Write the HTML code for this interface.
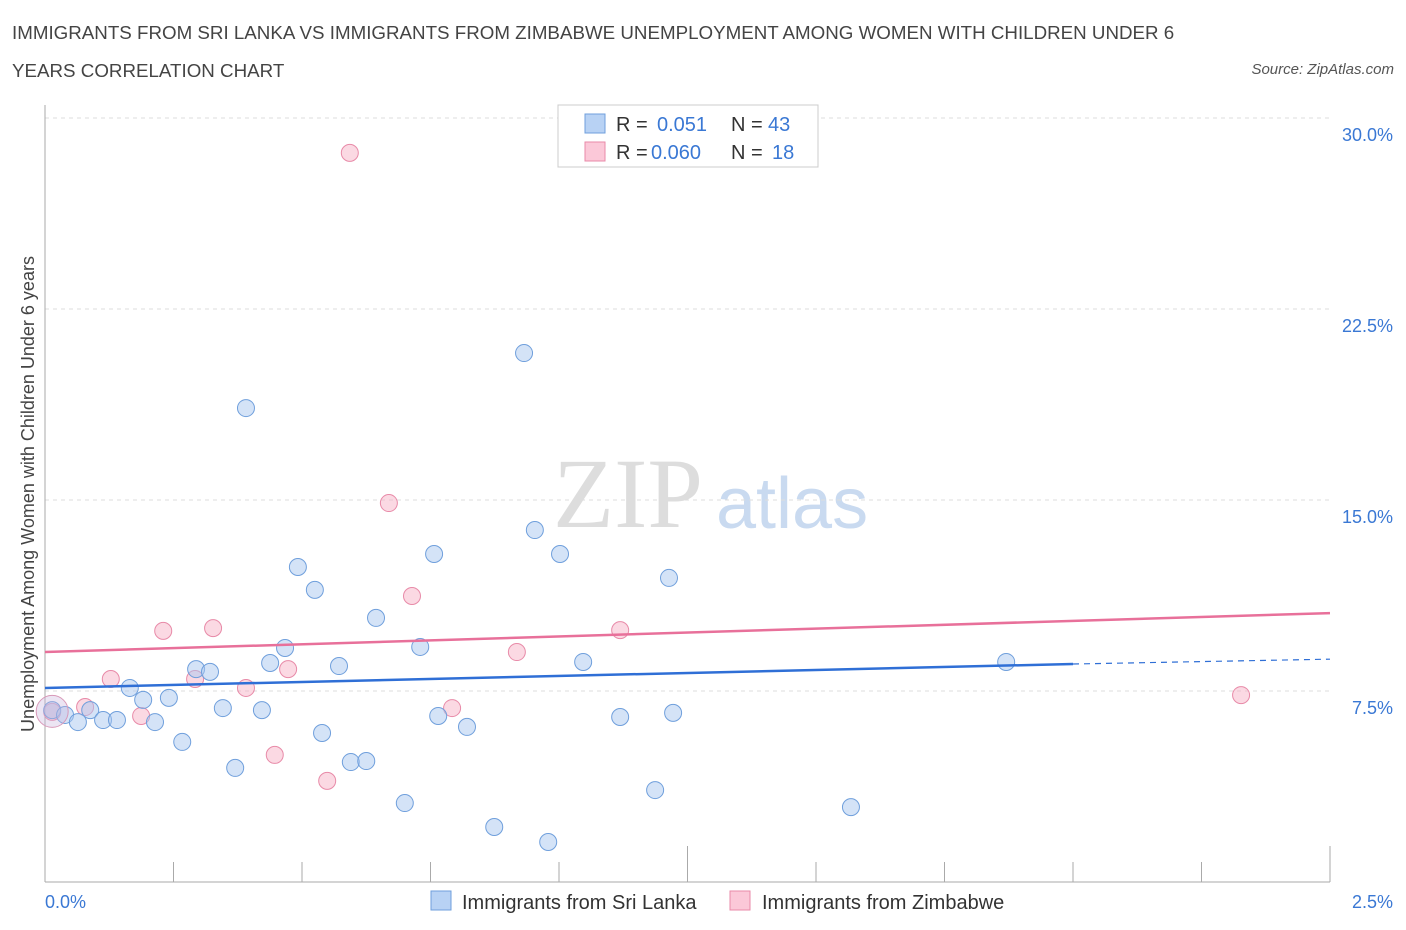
<!DOCTYPE html>
<html><head><meta charset="utf-8">
<style>
body{margin:0;background:#fff;font-family:"Liberation Sans",sans-serif;}
#wrap{position:relative;width:1406px;height:930px;overflow:hidden;}
.t{position:absolute;white-space:nowrap;}
</style></head><body>
<div id="wrap">
<div class="t" style="left:12px;top:14px;font-size:18.75px;color:#444;line-height:38px;">IMMIGRANTS FROM SRI LANKA VS IMMIGRANTS FROM ZIMBABWE UNEMPLOYMENT AMONG WOMEN WITH CHILDREN UNDER 6<br>YEARS CORRELATION CHART</div>
<div class="t" style="right:12px;top:61px;font-size:15px;font-style:italic;color:#555;">Source: ZipAtlas.com</div>
<svg id="svg" width="1406" height="930" style="position:absolute;left:0;top:0"></svg>
</div>
<script>
const blueX=[0.014,0.039,0.064,0.088,0.113,0.140,0.165,0.191,0.214,0.241,0.267,0.294,0.321,0.346,0.370,0.391,0.422,0.438,0.467,0.492,0.525,0.539,0.572,0.595,0.625,0.644,0.700,0.730,0.757,0.765,0.821,0.874,0.932,0.953,0.979,1.002,1.047,1.119,1.187,1.214,1.222,1.568,1.870];
const blueY=[6.75,6.56,6.28,6.75,6.36,6.36,7.62,7.15,6.28,7.23,5.50,8.36,8.25,6.83,4.48,18.61,6.75,8.60,9.19,12.37,11.47,5.85,8.48,4.71,4.75,10.37,3.10,9.23,12.88,6.52,6.09,2.16,20.77,13.82,1.57,12.88,8.64,6.48,3.61,11.94,6.64,2.94,8.64];
const pinkX=[0.014,0.078,0.128,0.187,0.230,0.292,0.327,0.391,0.447,0.473,0.549,0.593,0.669,0.714,0.792,0.918,1.119,2.327];
const pinkY=[6.68,6.87,7.97,6.52,9.86,7.97,9.97,7.62,4.99,8.36,3.97,28.63,14.88,11.23,6.83,9.03,9.89,7.34];
const blueTrend=[7.62,8.56,8.75]; // at x=0, 2.0, 2.5
const pinkTrend=[9.03,10.56]; // at x=0, 2.5
const yTicks=[7.5,15.0,22.5,30.0];
const yTickLabels=["7.5%","15.0%","22.5%","30.0%"];
const xTicks=[0,0.25,0.5,0.75,1,1.25,1.5,1.75,2,2.25,2.5];

const X=v=>45+v/2.5*1285;
const Y=v=>882-v/7.5*191;
const svg=document.getElementById('svg');
const NS='http://www.w3.org/2000/svg';
function mk(tag,attrs,parent){const e=document.createElementNS(NS,tag);for(const k in attrs)e.setAttribute(k,attrs[k]);(parent||svg).appendChild(e);return e;}

let wm=mk('text',{x:553,y:527,'font-size':100,'font-family':'Liberation Serif, serif',fill:'#ddd'});wm.textContent='ZIP';


let wm2=mk('text',{x:716,y:528,'font-size':72,'font-family':'Liberation Sans, sans-serif',fill:'#c9daf0'});wm2.textContent='atlas';



yTicks.forEach((v,i)=>{
  const g=mk('line',{x1:45,x2:1330,y1:Y(v),y2:Y(v),stroke:'#ddd','stroke-dasharray':'4,4'});
  
  
  const t=mk('text',{x:1393,y:Y(v)+23,'text-anchor':'end','font-size':18,fill:'#3a78d4'});
  t.textContent=yTickLabels[i];
  
  
});
mk('line',{x1:45,x2:45,y1:105,y2:882,stroke:'#aaa'});
mk('line',{x1:45,x2:1330,y1:882,y2:882,stroke:'#aaa'});
xTicks.forEach(v=>{
  const l=mk('line',{x1:X(v),x2:X(v),y1:882,y2:v===0||v===2.5||v===1.25?846:862,stroke:'#aaa'});
  
  
});
let xl=mk('text',{x:45,y:908,'font-size':18,fill:'#3a78d4'});xl.textContent='0.0%';


let xr=mk('text',{x:1393,y:908,'font-size':18,fill:'#3a78d4','text-anchor':'end'});xr.textContent='2.5%';


let yt=mk('text',{x:34,y:494,'font-size':18,fill:'#444','text-anchor':'middle',transform:'rotate(-90 34 494)'});yt.textContent='Unemployment Among Women with Children Under 6 years';



function pts(xs,ys,fill,stroke,name){
  xs.forEach((x,i)=>{
    const c=mk('circle',{cx:X(x),cy:Y(ys[i]),r:8.5,fill:fill,stroke:stroke,'stroke-width':1});
    
    
  });
}
pts(pinkX,pinkY,'rgba(248,180,200,0.5)','#e88aa8','zimbabwe-point');
pts(blueX,blueY,'rgba(170,200,240,0.5)','#6f9fdc','sri-lanka-point');
mk('circle',{cx:X(0.014),cy:Y(6.7),r:16,fill:'rgba(200,180,220,0.35)',stroke:'#d898b8'});

let bl=mk('line',{x1:X(0),y1:Y(blueTrend[0]),x2:X(2.0),y2:Y(blueTrend[1]),stroke:'#2f6fd6','stroke-width':2.5});


mk('line',{x1:X(2.0),y1:Y(blueTrend[1]),x2:X(2.5),y2:Y(blueTrend[2]),stroke:'#2f6fd6','stroke-width':1.2,'stroke-dasharray':'6,5'});
let pl=mk('line',{x1:X(0),y1:Y(pinkTrend[0]),x2:X(2.5),y2:Y(pinkTrend[1]),stroke:'#e8709a','stroke-width':2.5});



let lb=mk('rect',{x:558,y:105,width:260,height:62,fill:'#fff',stroke:'#ccc'});


mk('rect',{x:585,y:114,width:20,height:19,fill:'#b8d2f4',stroke:'#6f9fdc'});
mk('rect',{x:585,y:142,width:20,height:19,fill:'#fbc8d8',stroke:'#e88aa8'});
function tx(x,y,s,c,name){const t=mk('text',{x:x,y:y,'font-size':20,fill:c});t.textContent=s;}
tx(616,131,'R = ','#333','legend-r-label');tx(657,131,'0.051','#3a78d4','legend-r-blue');
tx(731,131,'N = ','#333','legend-n-label');tx(768,131,'43','#3a78d4','legend-n-blue');
tx(616,159,'R = ','#333','legend-r-label');tx(651,159,'0.060','#3a78d4','legend-r-pink');
tx(731,159,'N = ','#333','legend-n-label');tx(772,159,'18','#3a78d4','legend-n-pink');

mk('rect',{x:431,y:891,width:20,height:19,fill:'#b8d2f4',stroke:'#6f9fdc'});
tx(462,909,'Immigrants from Sri Lanka','#333','legend-entry-sri-lanka');
mk('rect',{x:730,y:891,width:20,height:19,fill:'#fbc8d8',stroke:'#e88aa8'});
tx(762,909,'Immigrants from Zimbabwe','#333','legend-entry-zimbabwe');
</script>
</body></html>
